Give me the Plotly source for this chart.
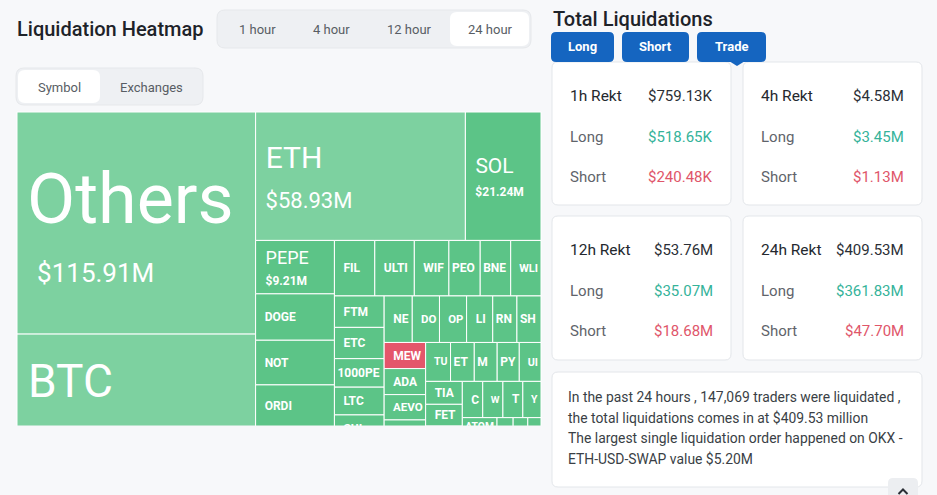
import math
import plotly.graph_objects as go

W, H = 937, 495
BG = "#f7f8fa"
FONT = "Roboto"

# ---------------- data ----------------
symbols = ["Others", "BTC", "ETH", "SOL", "PEPE", "DOGE", "NOT", "ORDI", "ARB",
           "FIL", "ULTI", "WIF", "PEOPLE", "BNB", "WLD",
           "FTM", "ETC", "1000PEPE", "LTC", "SUI", "APT",
           "NEAR", "DOT", "OP", "LINK", "RNDR", "SHIB",
           "MEW", "ADA", "AEVO", "XRP", "AVAX",
           "TURBO", "ETHFI", "MATIC", "PYTH", "UNI",
           "TIA", "FET", "INJ", "ENA",
           "CRV", "W", "TON", "YGG",
           "ATOM", "JUP", "STX", "BOME", "LDO", "GALA", "ONDO", "AAVE", "BCH"]
values_musd = [115.91, 70.40, 58.93, 21.24, 9.21, 8.00, 7.70, 7.40, 7.10,
               4.90, 4.80, 4.20, 3.80, 3.70, 3.68,
               3.42, 3.40, 3.10, 3.02, 2.98, 2.90,
               2.86, 2.77, 2.76, 2.66, 2.46, 2.45,
               2.37, 2.36, 2.30, 2.25, 2.20,
               2.12, 2.02, 1.95, 1.88, 1.85,
               1.84, 1.76, 1.72, 1.71,
               1.62, 1.60, 1.58, 1.44,
               1.40, 1.30, 1.20, 1.10, 1.00, 0.90, 0.80, 0.60, 0.54]
# visible (clipped) label text as it appears in the picture
shown_label = {"PEOPLE": "PEO", "BNB": "BNE", "WLD": "WLI", "1000PEPE": "1000PE",
               "NEAR": "NE", "DOT": "DO", "LINK": "LI", "RNDR": "RN", "SHIB": "SH",
               "TURBO": "TU", "ETHFI": "ET", "MATIC": "M", "PYTH": "PY", "UNI": "UI",
               "CRV": "C", "W": "W", "TON": "T", "YGG": "Y"}
short_dominant = ["MEW"]
light_cells = ["Others", "BTC", "ETH"]

time_tabs = ["1 hour", "4 hour", "12 hour", "24 hour"]
group_tabs = ["Symbol", "Exchanges"]
side_tabs = ["Long", "Short", "Trade"]
periods = ["1h Rekt", "4h Rekt", "12h Rekt", "24h Rekt"]
rekt_total = ["$759.13K", "$4.58M", "$53.76M", "$409.53M"]
rekt_long = ["$518.65K", "$3.45M", "$35.07M", "$361.83M"]
rekt_short = ["$240.48K", "$1.13M", "$18.68M", "$47.70M"]
summary_lines = ["In the past 24 hours , 147,069 traders were liquidated ,",
                 "the total liquidations comes in at $409.53 million",
                 "The largest single liquidation order happened on OKX -",
                 "ETH-USD-SWAP value $5.20M"]

# ---------------- styles ----------------
# label size, value size, line base size, value bold, label indent, value indent
big_style = {"Others": (70, 26, 46, False, 7, 17), "BTC": (46, 22, 37, False, 8, 8),
             "ETH": (30, 22, 31, False, 7, 7), "SOL": (21, 12, 18, True, 7, 7),
             "PEPE": (18, 12, 16, True, 7, 7)}
tight_cells = ["PEOPLE", "BNB", "RNDR", "SHIB", "MATIC", "ETHFI", "PYTH", "ATOM", "1000PEPE"]
C_LIGHT, C_DARK, C_RED = "#7dd1a0", "#5cc487", "#e4566b"
C_TEAL, C_SHORT = "#35b39a", "#e0566a"


def px(x):
    return x / W


def py(y):
    return 1 - y / H


def indent(amount, max_size):
    if amount <= 0:
        return ""
    n = max(1, math.ceil(amount / (0.2476 * max_size)))
    s = amount / (0.2476 * n)
    return f"<span style='font-size:{s:.1f}px'>" + "\u00a0" * n + "</span>"


texts, sizes, colors = [], [], []
for s, v in zip(symbols, values_musd):
    if s in big_style:
        a, b, base, bold, ia, ib = big_style[s]
        vw = ";font-weight:bold" if bold else ""
        texts.append(indent(ia, a) + f"<span style='font-size:{a}px'>{s}</span><br>"
                     + indent(ib, b) + f"<span style='font-size:{b}px{vw}'>${v:.2f}M</span>")
        sizes.append(base)
    else:
        pad = 0 if s in tight_cells else 6
        texts.append(indent(pad, 12) + f"<b>{shown_label.get(s, s)}</b>")
        sizes.append(12)
    if s in short_dominant:
        colors.append(C_RED)
    elif s in light_cells:
        colors.append(C_LIGHT)
    else:
        colors.append(C_DARK)

fig = go.Figure()
fig.add_trace(go.Treemap(
    labels=symbols, parents=[""] * len(symbols), values=values_musd,
    sort=True, text=texts, textinfo="text", textposition="middle left",
    textfont=dict(family=FONT, size=sizes, color="white"),
    marker=dict(colors=colors, line=dict(color="white", width=1),
                pad=dict(t=0, l=0, r=0, b=0)),
    tiling=dict(packing="squarify", squarifyratio=1.618034, pad=0),
    pathbar=dict(visible=False),
    hoverinfo="label+value",
    domain=dict(x=[px(17), px(541)], y=[py(469), py(112)]),
))

shapes, annotations = [], []


def rrect(x0, y0, x1, y1, r, fill, line=None, lw=1, layer="above"):
    pts = [("M", x0 + r, y0), ("L", x1 - r, y0), ("Q", x1, y0, x1, y0 + r),
           ("L", x1, y1 - r), ("Q", x1, y1, x1 - r, y1), ("L", x0 + r, y1),
           ("Q", x0, y1, x0, y1 - r), ("L", x0, y0 + r), ("Q", x0, y0, x0 + r, y0)]
    path = ""
    for p in pts:
        cmd, coords = p[0], p[1:]
        xy = [f"{px(coords[i]):.5f},{py(coords[i + 1]):.5f}" for i in range(0, len(coords), 2)]
        path += cmd + " ".join(xy) + " "
    path += "Z"
    shapes.append(dict(type="path", path=path, xref="paper", yref="paper",
                       fillcolor=fill, layer=layer,
                       line=dict(color=line or fill, width=lw if line else 0)))


def poly(pts, fill=None, line=None, lw=1):
    path = "M" + " L".join(f"{px(x):.5f},{py(y):.5f}" for x, y in pts)
    if fill:
        path += " Z"
    shapes.append(dict(type="path", path=path, xref="paper", yref="paper",
                       fillcolor=fill or "rgba(0,0,0,0)", layer="above",
                       line=dict(color=line or fill, width=lw if line else 0)))


def text(t, x, y, size, color, anchor="left", weight=400):
    annotations.append(dict(text=t, x=px(x), y=py(y), xref="paper", yref="paper",
                            xanchor=anchor, yanchor="middle", showarrow=False,
                            font=dict(family=FONT, size=size, color=color, weight=weight)))


# clip treemap bottom (container cut-off)
shapes.append(dict(type="rect", xref="paper", yref="paper", x0=px(10), x1=px(546),
                   y0=py(495), y1=py(425.5), fillcolor=BG, line=dict(width=0), layer="above"))

# header left
text("Liquidation Heatmap", 15, 29, 20, "#1e2329", weight=500)
rrect(217, 10, 531, 48, 8, "#eef0f3", "#e6e8eb")
rrect(450, 12, 529, 46, 7, "#ffffff")
for t, cx in zip(time_tabs, [257, 331, 409, 490]):
    text(t, cx, 29, 13, "#585d64", anchor="center")

rrect(16, 68, 203, 105, 8, "#eef0f3", "#e6e8eb")
rrect(18, 70, 100, 103, 7, "#ffffff")
for t, cx in zip(group_tabs, [59, 151]):
    text(t, cx, 87, 13, "#585d64", anchor="center")

# right panel
text("Total Liquidations", 551, 19, 20, "#1e2329", weight=500)
cards = [(552, 62, 731, 205), (743, 62, 922, 205), (552, 216, 731, 360), (743, 216, 922, 360)]
for (x0, y0, x1, y1) in cards:
    rrect(x0, y0, x1, y1, 6, "#ffffff", "#e3e6ea")
rrect(552, 372, 922, 487, 6, "#ffffff", "#e3e6ea")

for t, (x0, x1) in zip(side_tabs, [(551, 614), (622, 689), (697, 766)]):
    rrect(x0, 32, x1, 62, 5, "#1565c0")
    text(t, (x0 + x1) / 2, 47, 13, "#ffffff", anchor="center", weight=700)
poly([(729, 61), (745, 61), (737, 66)], fill="#1565c0")

for i, (x0, y0, x1, y1) in enumerate(cards):
    lx, rx = x0 + 16, x1 - 16
    text(periods[i], lx, y0 + 34, 15.5, "#24282e", weight=400)
    text(rekt_total[i], rx, y0 + 34, 15, "#2b2f36", anchor="right")
    text("Long", lx, y0 + 75, 15, "#5f646b")
    text(rekt_long[i], rx, y0 + 75, 15, C_TEAL, anchor="right")
    text("Short", lx, y0 + 115, 15, "#5f646b")
    text(rekt_short[i], rx, y0 + 115, 15, C_SHORT, anchor="right")

for k, line in enumerate(summary_lines):
    text(line, 566, 397 + 20.7 * k, 13.9, "#3a3f46")

# scroll-to-top button
rrect(888, 478, 918, 505, 5, "#eceef1")
poly([(898.5, 494), (903, 489.5), (907.5, 494)], line="#2b2f36", lw=2)

fig.update_layout(width=W, height=H, margin=dict(l=0, r=0, t=0, b=0),
                  paper_bgcolor=BG, plot_bgcolor=BG, showlegend=False,
                  shapes=shapes, annotations=annotations,
                  font=dict(family=FONT))
fig.write_html("out.html")
